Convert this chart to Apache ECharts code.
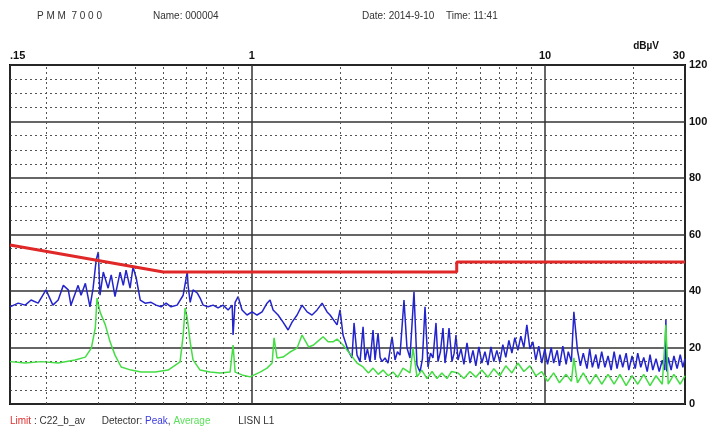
<!DOCTYPE html>
<html>
<head>
<meta charset="utf-8">
<script src="https://cdn.jsdelivr.net/npm/echarts@6/dist/echarts.min.js"></script>
<style>
  html, body { margin: 0; padding: 0; background: #fff; }
  #chart { width: 714px; height: 432px; }
</style>
</head>
<body>
<div id="chart"></div>
<script>
// frequency in MHz, level in dBuV
var limitFreq = [0.15, 0.5, 5, 5, 30]
var limitLevel = [56.3, 46.7, 46.7, 50.3, 50.3]

var peakFreq = [
  0.150, 0.160, 0.169, 0.177, 0.187, 0.199, 0.210, 0.219, 0.228, 0.237,
  0.242, 0.250, 0.256, 0.262, 0.271, 0.281, 0.288, 0.295, 0.300, 0.304,
  0.312, 0.324, 0.332, 0.342, 0.356, 0.365, 0.373, 0.385, 0.394, 0.404,
  0.417, 0.433, 0.454, 0.472, 0.491, 0.511, 0.531, 0.557, 0.584, 0.603,
  0.607, 0.617, 0.631, 0.652, 0.667, 0.683, 0.710, 0.739, 0.768, 0.799,
  0.831, 0.858, 0.864, 0.878, 0.899, 0.927, 0.964, 1.003, 1.043, 1.085,
  1.128, 1.155, 1.183, 1.230, 1.279, 1.331, 1.373, 1.428, 1.485, 1.545,
  1.606, 1.671, 1.738, 1.807, 1.850, 1.879, 1.954, 2.001, 2.048, 2.130,
  2.198, 2.233, 2.286, 2.341, 2.397, 2.435, 2.480, 2.532, 2.592, 2.633,
  2.696, 2.740, 2.782, 2.848, 2.916, 2.960, 3.009, 3.081, 3.140, 3.203,
  3.305, 3.384, 3.464, 3.575, 3.660, 3.748, 3.820, 3.898, 3.991, 4.070,
  4.150, 4.249, 4.316, 4.400, 4.488, 4.560, 4.630, 4.706, 4.818, 4.900,
  4.971,
  5.05, 5.17, 5.29, 5.42, 5.55, 5.68, 5.81, 5.95, 6.09, 6.24,
  6.39, 6.54, 6.69, 6.85, 7.01, 7.18, 7.35, 7.53, 7.71, 7.89,
  8.08, 8.27, 8.47, 8.67, 8.88, 9.09, 9.30, 9.52, 9.75, 9.98,
  10.2, 10.5, 10.7, 11.0, 11.2, 11.5, 11.8, 12.0, 12.3, 12.54,
  12.9, 13.2, 13.5, 13.9, 14.2, 14.5, 14.9, 15.2, 15.6, 16.0,
  16.4, 16.8, 17.2, 17.6, 18.0, 18.4, 18.9, 19.3, 19.8, 20.3,
  20.7, 21.2, 21.7, 22.3, 22.8, 23.3, 23.9, 24.5, 25.1, 25.6,
  25.82, 26.0, 26.3, 26.9, 27.5, 28.2, 28.9, 29.5, 30.0
]
var peakLevel = [
  34.4, 35.7, 35.0, 36.8, 35.7, 40.4, 35.0, 36.8, 42.0, 40.4,
  35.0, 39.0, 42.0, 38.5, 42.7, 34.4, 41.0, 51.0, 53.8, 38.5,
  46.7, 41.0, 45.7, 38.0, 46.7, 42.0, 47.4, 41.0, 48.5, 44.6,
  36.8, 35.7, 36.0, 35.0, 34.4, 35.7, 34.4, 35.0, 38.5, 46.7,
  42.0, 36.0, 40.4, 39.3, 37.5, 35.0, 34.4, 35.0, 34.0, 35.0,
  33.3, 35.0, 24.4, 36.0, 38.0, 33.3, 31.5, 32.6, 31.5, 32.6,
  35.7, 36.8, 33.3, 31.5, 29.0, 26.2, 29.0, 31.5, 35.0, 32.6,
  31.5, 33.3, 35.7, 32.6, 31.5, 32.0, 28.0, 33.3, 24.4, 19.0,
  16.3, 28.7, 17.3, 15.0, 27.3, 15.6, 19.5, 14.9, 26.2, 15.6,
  25.1, 16.5, 15.0, 16.3, 14.5, 19.0, 23.8, 15.6, 18.5, 17.3,
  36.8, 19.8, 16.3, 39.7, 13.8, 11.3, 16.0, 34.4, 13.1, 18.0,
  16.3, 28.7, 15.0, 18.5, 26.9, 14.5, 19.0, 26.9, 15.0, 18.0,
  24.4,
  15.6, 19.5, 14.0, 21.6, 14.5, 19.0, 13.5, 20.2, 14.5, 18.5,
  13.8, 20.2, 15.0, 19.0, 14.9, 21.0, 16.5, 22.5, 18.0, 23.5,
  19.0, 24.0, 20.0, 28.0, 19.5, 22.0, 15.5, 20.5, 14.5, 19.5,
  14.0, 20.0, 14.5, 19.0, 13.5, 20.5, 14.0, 18.5, 15.0, 32.6,
  19.0, 13.5, 18.0, 12.5, 19.5, 13.0, 17.5, 12.5, 18.5, 13.0,
  17.0, 12.0, 18.5, 12.5, 17.5, 13.0, 18.0, 12.0, 17.0, 12.5,
  18.0, 13.0, 16.5, 11.5, 17.5, 12.0, 16.0, 11.5, 15.5, 12.0,
  29.7, 11.5, 16.5, 12.0, 17.0, 12.5, 17.5, 13.0, 16.0
]

var avgFreq = [
  0.150, 0.169, 0.192, 0.219, 0.250, 0.271, 0.284, 0.293, 0.297, 0.304,
  0.317, 0.329, 0.342, 0.359, 0.388, 0.420, 0.469, 0.519, 0.570, 0.584,
  0.593, 0.603, 0.617, 0.631, 0.667, 0.721, 0.780, 0.844, 0.864, 0.878,
  0.927, 0.987, 1.068, 1.128, 1.174, 1.192, 1.220, 1.279, 1.351, 1.428,
  1.485, 1.564, 1.626, 1.671, 1.752, 1.821, 1.894, 1.954, 2.048, 2.181,
  2.286, 2.397, 2.500, 2.592, 2.700, 2.804, 2.920, 3.032, 3.150, 3.280,
  3.464, 3.548, 3.660, 3.800, 3.960, 4.120, 4.282, 4.450, 4.632, 4.800,
  5.05, 5.29, 5.55, 5.81, 6.09, 6.39, 6.69, 7.01, 7.35, 7.71,
  8.08, 8.47, 8.88, 9.30, 9.75, 10.2, 10.7, 11.2, 11.8, 12.3,
  12.54, 12.9, 13.5, 14.2, 14.9, 15.6, 16.4, 17.2, 18.0, 18.9,
  19.8, 20.7, 21.7, 22.8, 23.9, 25.1, 25.82, 26.3, 27.5, 28.9,
  30.0
]
var avgLevel = [
  15.0, 14.5, 15.0, 14.5, 15.6, 16.6, 19.8, 26.9, 37.5, 32.6,
  28.0, 22.0, 17.3, 13.1, 12.0, 11.3, 11.3, 12.0, 14.9, 24.4,
  34.0, 30.4, 22.0, 15.6, 12.0, 11.3, 11.0, 11.3, 20.9, 11.3,
  10.3, 9.6, 11.3, 12.7, 14.5, 23.4, 16.3, 16.6, 18.4, 19.8,
  24.4, 20.2, 20.9, 22.0, 23.8, 22.0, 22.0, 23.0, 20.9, 17.3,
  14.5, 13.1, 11.0, 12.7, 10.5, 12.0, 10.0, 11.3, 9.5, 12.7,
  11.0, 19.8, 9.6, 12.0, 9.0, 11.5, 9.0, 11.0, 9.0, 11.5,
  11.0, 9.0, 11.5, 9.5, 12.0, 9.5, 12.5, 10.0, 13.5, 11.0,
  14.5, 11.5, 13.5, 10.0, 11.5, 8.0, 11.0, 7.5, 10.5, 8.0,
  16.3, 7.5, 11.0, 7.0, 10.5, 7.0, 10.5, 7.0, 10.5, 6.5,
  10.0, 7.0, 10.5, 6.5, 10.0, 7.0, 28.0, 7.0, 10.5, 7.0,
  10.0
]

// dotted minor grid positions
var minorFreq = [0.2, 0.3, 0.4, 0.5, 0.6, 0.7, 0.8, 0.9, 2, 3, 4, 5, 6, 7, 8, 9, 20]

function zip(xs, ys) {
  return xs.map(function (x, i) { return [x, ys[i]] })
}

var chart = echarts.init(document.getElementById('chart'))
var dotted = { color: '#555', width: 1, type: [2, 3] }

var option = {
  backgroundColor: '#fff',
  animation: false,
  grid: {
    left: 10, right: 29, top: 65, bottom: 28,
    show: true, borderColor: '#000', borderWidth: 2
  },
  xAxis: {
    type: 'log',
    logBase: 10,
    min: 0.15,
    max: 30,
    position: 'top',
    axisLine: { show: false },
    axisTick: { show: false },
    axisLabel: {
      color: '#111',
      fontSize: 11,
      fontWeight: 'bold',
      fontFamily: 'Liberation Sans',
      margin: 4,
      alignMinLabel: 'left',
      alignMaxLabel: 'right',
      formatter: function (v) {
        if (Math.abs(v - 0.15) < 1e-6) return '.15'
        return String(Math.round(v))
      }
    },
    splitLine: { show: true, lineStyle: { color: '#333', width: 1.5 } }
  },
  yAxis: {
    type: 'value',
    min: 0,
    max: 120,
    interval: 20,
    position: 'right',
    name: 'dBµV',
    nameLocation: 'end',
    nameGap: 14,
    nameTextStyle: {
      color: '#111', fontSize: 10, fontWeight: 'bold',
      fontFamily: 'Liberation Sans', align: 'right', padding: [0, 26, 0, 0]
    },
    axisLine: { show: false },
    axisTick: { show: false },
    axisLabel: {
      color: '#111', fontSize: 11, fontWeight: 'bold',
      fontFamily: 'Liberation Sans', margin: 4
    },
    splitLine: { show: true, lineStyle: { color: '#333', width: 1.5 } },
    minorTick: { show: false, splitNumber: 4 },
    minorSplitLine: { show: true, lineStyle: dotted }
  },
  series: [
    {
      name: 'grid',
      type: 'line',
      data: [],
      silent: true,
      markLine: {
        silent: true,
        symbol: 'none',
        label: { show: false },
        lineStyle: dotted,
        emphasis: { disabled: true },
        data: minorFreq.map(function (f) { return { xAxis: f } })
      }
    },
    {
      name: 'Peak',
      type: 'line',
      data: zip(peakFreq, peakLevel),
      symbol: 'none',
      lineStyle: { color: '#2424cc', width: 1.5 },
      z: 3
    },
    {
      name: 'Average',
      type: 'line',
      data: zip(avgFreq, avgLevel),
      symbol: 'none',
      lineStyle: { color: '#44dd44', width: 1.5 },
      z: 4
    },
    {
      name: 'Limit',
      type: 'line',
      data: zip(limitFreq, limitLevel),
      symbol: 'none',
      lineStyle: { color: '#e02828', width: 3 },
      z: 5
    }
  ],
  graphic: [
    {
      type: 'text', left: 37, top: 11,
      style: { text: 'P M M  7 0 0 0', fill: '#333', font: '10px "Liberation Sans"' }
    },
    {
      type: 'text', left: 153, top: 11,
      style: { text: 'Name: 000004', fill: '#333', font: '10px "Liberation Sans"' }
    },
    {
      type: 'text', left: 362, top: 11,
      style: { text: 'Date: 2014-9-10', fill: '#333', font: '10px "Liberation Sans"' }
    },
    {
      type: 'text', left: 446, top: 11,
      style: { text: 'Time: 11:41', fill: '#333', font: '10px "Liberation Sans"' }
    },
    {
      type: 'text', left: 10, top: 416,
      style: {
        text: '{r|Limit} : C22_b_av      Detector: {b|Peak}, {g|Average}          LISN L1',
        fill: '#333',
        font: '10px "Liberation Sans"',
        rich: {
          r: { fill: '#e03030', font: '10px "Liberation Sans"' },
          b: { fill: '#3a3ae0', font: '10px "Liberation Sans"' },
          g: { fill: '#5ce05c', font: '10px "Liberation Sans"' }
        }
      }
    }
  ]
}

chart.setOption(option)
</script>
</body>
</html>
